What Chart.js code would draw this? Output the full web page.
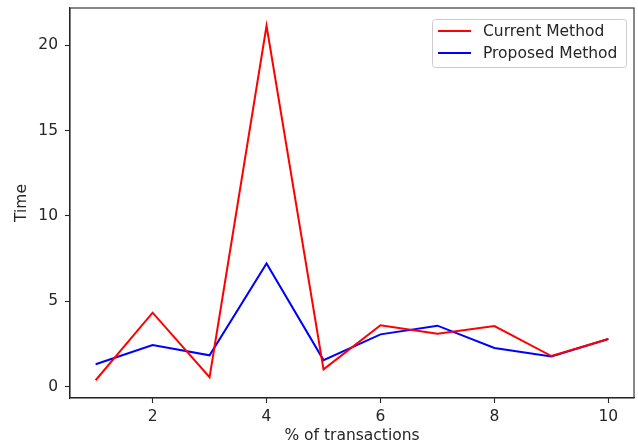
<!DOCTYPE html>
<html>
<head>
<meta charset="utf-8">
<script src="https://cdn.jsdelivr.net/npm/chart.js@4/dist/chart.umd.min.js"></script>
<style>
  html, body { margin: 0; padding: 0; background: #fff; }
  #wrap { width: 638px; height: 445px; }
</style>
</head>
<body>
<div id="wrap"><canvas id="chart" width="638" height="445"></canvas></div>
<script>
// values
const xValues = [1, 2, 3, 4, 5, 6, 7, 8, 9, 10];
const currentMethod = [0.37, 4.33, 0.55, 21.15, 1.01, 3.59, 3.1, 3.55, 1.79, 2.79];
const proposedMethod = [1.31, 2.44, 1.83, 7.22, 1.55, 3.06, 3.57, 2.26, 1.76, 2.79];
const xTicks = [2, 4, 6, 8, 10];
const yTicks = [0, 5, 10, 15, 20];

const FONT = { family: 'DejaVu Sans', size: 15.5 };
const INK = '#262626';

const toPoints = ys => ys.map((y, i) => ({ x: xValues[i], y }));

// matplotlib-like full frame around the axes
const framePlugin = {
  id: 'frame',
  afterDraw(chart) {
    const { ctx, chartArea: a } = chart;
    ctx.save();
    ctx.strokeStyle = INK;
    ctx.lineWidth = 1.1;
    ctx.strokeRect(a.left, a.top, a.right - a.left, a.bottom - a.top);
    ctx.restore();
  }
};

// legend box in the upper right corner of the axes
const legendPlugin = {
  id: 'boxLegend',
  afterDraw(chart) {
    const { ctx, chartArea: a } = chart;
    const sets = chart.data.datasets;
    const w = 194, h = 48;
    const x = a.right - 8 - w, y = a.top + 11;
    ctx.save();
    ctx.fillStyle = 'rgba(255,255,255,0.8)';
    ctx.strokeStyle = '#cccccc';
    ctx.lineWidth = 1;
    ctx.beginPath();
    ctx.roundRect(x + 0.5, y + 0.5, w, h, 3);
    ctx.fill();
    ctx.stroke();
    ctx.font = `${FONT.size}px ${FONT.family}`;
    ctx.textBaseline = 'middle';
    sets.forEach((ds, i) => {
      const ly = y + 12 + i * 22;
      ctx.strokeStyle = ds.borderColor;
      ctx.lineWidth = 2;
      ctx.beginPath();
      ctx.moveTo(x + 6, ly);
      ctx.lineTo(x + 39, ly);
      ctx.stroke();
      ctx.fillStyle = INK;
      ctx.fillText(ds.label, x + 51, ly + 1);
    });
    ctx.restore();
  }
};

new Chart(document.getElementById('chart'), {
  type: 'line',
  data: {
    datasets: [
      { label: 'Current Method', data: toPoints(currentMethod), borderColor: '#ff0000', borderWidth: 2, pointRadius: 0, tension: 0, fill: false },
      { label: 'Proposed Method', data: toPoints(proposedMethod), borderColor: '#0000ff', borderWidth: 2, pointRadius: 0, tension: 0, fill: false }
    ]
  },
  options: {
    responsive: false,
    animation: false,
    layout: { padding: { top: 8, right: 4, left: 0, bottom: 0 } },
    plugins: { legend: { display: false }, tooltip: { enabled: false } },
    scales: {
      x: {
        type: 'linear',
        min: 0.55,
        max: 10.45,
        afterBuildTicks: s => { s.ticks = xTicks.map(v => ({ value: v })); },
        afterFit: s => { s.height = 47; s.paddingLeft = 0; s.paddingRight = 0; },
        grid: { display: true, drawOnChartArea: false, drawTicks: true, tickLength: 5, color: INK, tickWidth: 1.1 },
        border: { display: true, color: INK, width: 1.1 },
        ticks: { font: FONT, color: INK, padding: 5, maxRotation: 0 },
        title: { display: true, text: '% of transactions', font: FONT, color: INK, padding: { top: 2, bottom: 0 } }
      },
      y: {
        type: 'linear',
        min: -0.67,
        max: 22.19,
        afterBuildTicks: s => { s.ticks = yTicks.map(v => ({ value: v })); },
        afterFit: s => { s.width = 70; s.paddingTop = 0; s.paddingBottom = 0; },
        grid: { display: true, drawOnChartArea: false, drawTicks: true, tickLength: 5, color: INK, tickWidth: 1.1 },
        border: { display: true, color: INK, width: 1.1 },
        ticks: { font: FONT, color: INK, padding: 7 },
        title: { display: true, text: 'Time', font: FONT, color: INK, padding: { top: 13, bottom: 0 } }
      }
    }
  },
  plugins: [framePlugin, legendPlugin]
});
</script>
</body>
</html>
